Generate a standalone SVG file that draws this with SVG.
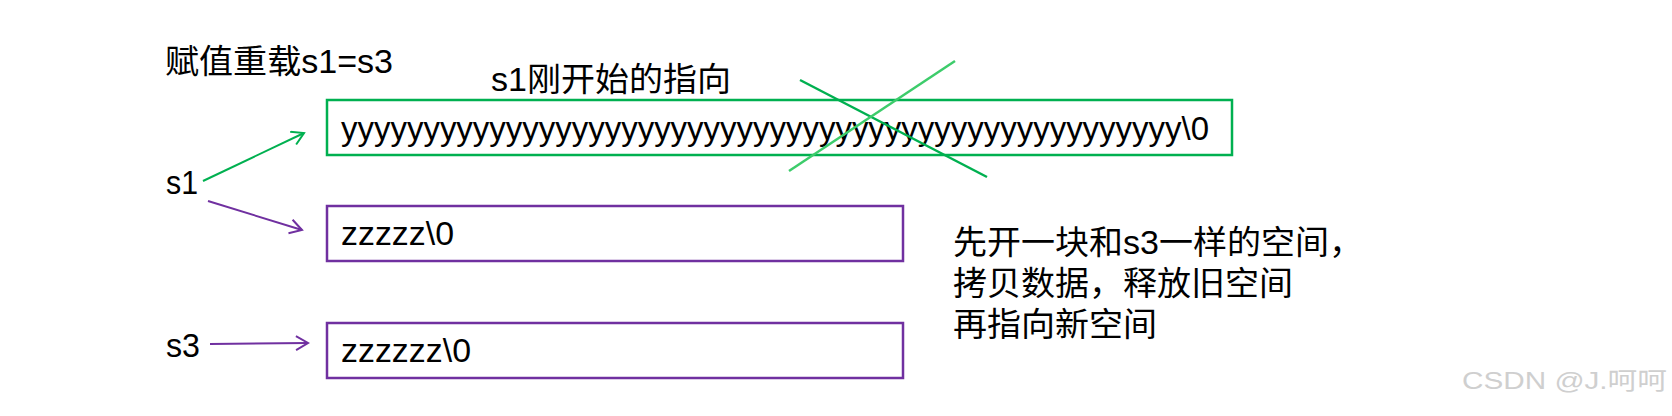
<svg xmlns="http://www.w3.org/2000/svg" width="1672" height="416" viewBox="0 0 1672 416">
<style>
  text { font-family: "Liberation Sans", "Noto Sans CJK SC", sans-serif; font-size: 33px; fill: #000; }
  .box { fill: none; stroke-width: 2.5; }
  .green { stroke: #00B050; }
  .purple { stroke: #7030A0; }
  .conn { fill: none; stroke-width: 2; }
  .wm { font-size: 24px; fill: #cfcfcf; }
</style>
<defs>
  <marker id="arrG" markerUnits="userSpaceOnUse" markerWidth="16" markerHeight="18" refX="13" refY="8" orient="auto">
    <path d="M1,1 L13,8 L1,15" fill="none" stroke="#00B050" stroke-width="2"/>
  </marker>
  <marker id="arrP" markerUnits="userSpaceOnUse" markerWidth="16" markerHeight="18" refX="13" refY="8" orient="auto">
    <path d="M1,1 L13,8 L1,15" fill="none" stroke="#7030A0" stroke-width="2"/>
  </marker>
</defs>
<rect width="1672" height="416" fill="#fff"/>

<g id="title">
  <text x="165" y="73" textLength="228" lengthAdjust="spacingAndGlyphs">赋值重载s1=s3</text>
</g>
<g id="label-old">
  <text x="491" y="91" textLength="240" lengthAdjust="spacingAndGlyphs">s1刚开始的指向</text>
</g>
<g id="s1">
  <text x="166" y="194" textLength="32" lengthAdjust="spacingAndGlyphs">s1</text>
</g>
<g id="s3">
  <text x="166" y="357" textLength="34" lengthAdjust="spacingAndGlyphs">s3</text>
</g>
<g id="old-space">
  <rect class="box green" x="327" y="100" width="905" height="55"/>
  <text x="341" y="140" textLength="868" lengthAdjust="spacingAndGlyphs">yyyyyyyyyyyyyyyyyyyyyyyyyyyyyyyyyyyyyyyyyyyyyyyyyyy\0</text>
</g>
<g id="new-space">
  <rect class="box purple" x="327" y="206" width="576" height="55"/>
  <text x="341" y="245" textLength="113" lengthAdjust="spacingAndGlyphs">zzzzz\0</text>
</g>
<g id="s3-space">
  <rect class="box purple" x="327" y="323" width="576" height="55"/>
  <text x="341" y="362" textLength="130" lengthAdjust="spacingAndGlyphs">zzzzzz\0</text>
</g>
<g id="note">
  <text x="953" y="254" textLength="410" lengthAdjust="spacingAndGlyphs">先开一块和s3一样的空间，</text>
  <text x="953" y="295" textLength="340" lengthAdjust="spacingAndGlyphs">拷贝数据，释放旧空间</text>
  <text x="953" y="336" textLength="204" lengthAdjust="spacingAndGlyphs">再指向新空间</text>
</g>
<g id="connectors">
  <line class="conn" x1="203" y1="181" x2="304" y2="133" stroke="#00B050" marker-end="url(#arrG)"/>
  <line class="conn" x1="208" y1="201" x2="302" y2="230" stroke="#7030A0" marker-end="url(#arrP)"/>
  <line class="conn" x1="210" y1="344" x2="308" y2="343" stroke="#7030A0" marker-end="url(#arrP)"/>
</g>
<g id="cross">
  <line x1="800" y1="80" x2="987" y2="177" stroke="#00B050" stroke-width="2.5"/>
  <line x1="789" y1="171" x2="955" y2="61" stroke="#3DCC6B" stroke-width="2.5"/>
</g>
<g id="watermark">
  <text class="wm" x="1462" y="389" textLength="205" lengthAdjust="spacingAndGlyphs">CSDN @J.呵呵</text>
</g>
</svg>
